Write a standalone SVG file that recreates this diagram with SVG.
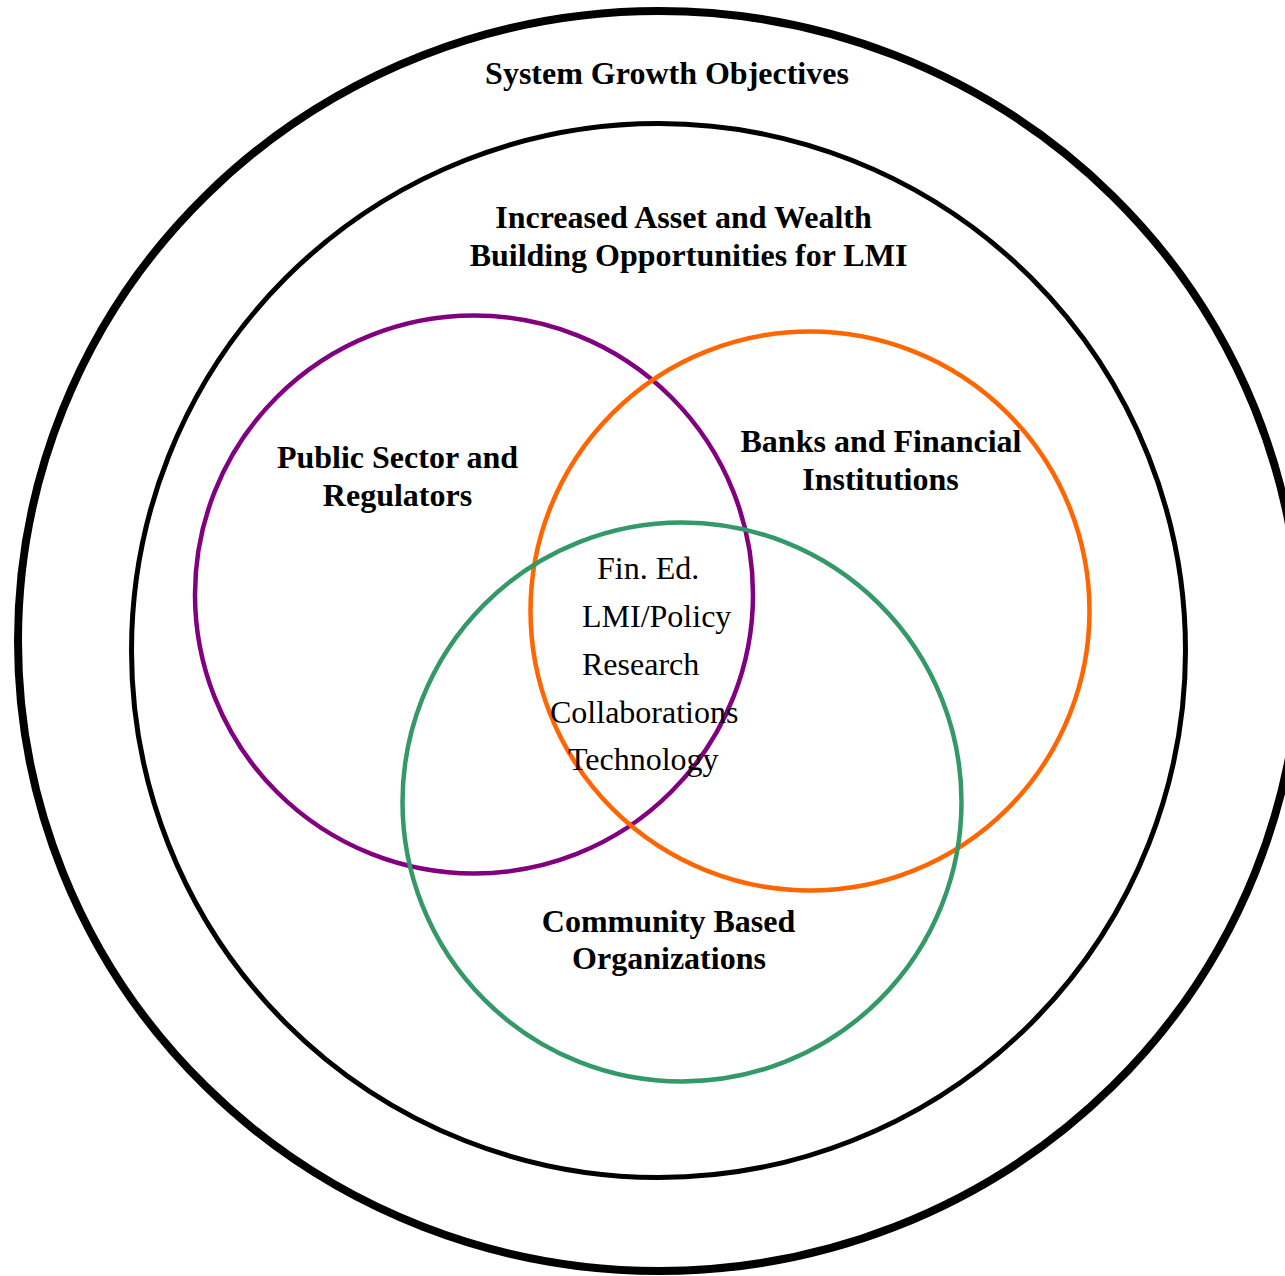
<svg xmlns="http://www.w3.org/2000/svg" width="1285" height="1276" viewBox="0 0 1285 1276">
  <style>
    .ring { fill: none; stroke: #000; }
    .set { fill: none; stroke-width: 4.5; }
    .head { font-family: "Liberation Serif", "Times New Roman", serif; font-weight: bold; font-size: 32px; fill: #000; text-anchor: middle; }
    .item { font-family: "Liberation Serif", "Times New Roman", serif; font-size: 32px; fill: #000; }
  </style>
  <rect width="1285" height="1276" fill="#fff"/>

  <!-- outer ring: system growth objectives -->
  <g id="system-growth">
    <ellipse class="ring" cx="659" cy="641" rx="641" ry="630" stroke-width="8"/>
    <text class="head" x="667" y="84">System Growth Objectives</text>
  </g>

  <!-- second ring: asset and wealth building -->
  <g id="asset-wealth">
    <circle class="ring" cx="658.5" cy="650.5" r="527" stroke-width="5"/>
    <text class="head" x="683.5" y="228">Increased Asset and Wealth</text>
    <text class="head" x="688.5" y="266">Building Opportunities for LMI</text>
  </g>

  <!-- three overlapping sector circles -->
  <g id="public-sector">
    <circle class="set" cx="474" cy="594.5" r="279" stroke="#800080"/>
    <text class="head" x="397.5" y="468">Public Sector and</text>
    <text class="head" x="397.5" y="506">Regulators</text>
  </g>

  <g id="banks">
    <circle class="set" cx="810" cy="611" r="279.5" stroke="#FF6600"/>
    <text class="head" x="881" y="452">Banks and Financial</text>
    <text class="head" x="880.5" y="490">Institutions</text>
  </g>

  <g id="community">
    <circle class="set" cx="682" cy="802" r="279.5" stroke="#339966"/>
    <text class="head" x="668.5" y="932">Community Based</text>
    <text class="head" x="669" y="969">Organizations</text>
  </g>

  <!-- shared focus areas in the overlap -->
  <g id="shared-focus">
    <text class="item" x="597" y="579">Fin. Ed.</text>
    <text class="item" x="582" y="627">LMI/Policy</text>
    <text class="item" x="582" y="675">Research</text>
    <text class="item" x="550" y="723">Collaborations</text>
    <text class="item" x="568" y="770">Technology</text>
  </g>

  <g id="connectors"></g>
</svg>
